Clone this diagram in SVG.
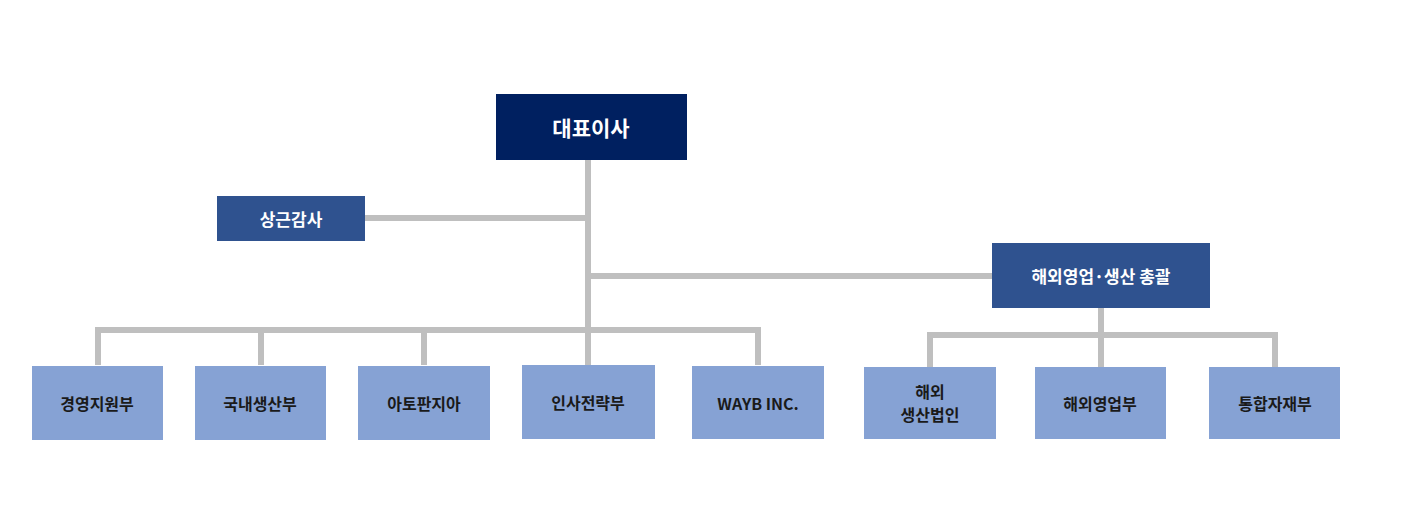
<svg xmlns="http://www.w3.org/2000/svg" width="1405" height="529" viewBox="0 0 1405 529">
<style>
.ln{stroke:#bfbfbf;stroke-width:6;fill:none}
.top{fill:#002060}
.mid{fill:#2f528f}
.low{fill:#86a2d4}
.tw{font-family:"Noto Sans CJK KR","Noto Sans",sans-serif;font-weight:bold;fill:#fff;text-anchor:middle;dominant-baseline:central}
.tb{font-family:"Noto Sans CJK KR","Noto Sans",sans-serif;font-weight:bold;fill:#1a1a1a;text-anchor:middle;dominant-baseline:central;font-size:16px}
</style>
<rect width="1405" height="529" fill="#fff"/>
<g id="connectors">
<path class="ln" d="M588 160V333M365 218H588M588 276H992M98 365V330H758V365M261 330V365M424 330V365M588 330V365"/>
<path class="ln" d="M1101 308V333M930 367V335H1275V367M1101 333V367"/>
</g>
<g id="n0"><rect class="top" x="496" y="94" width="191" height="66"/><text class="tw" x="591" y="127" font-size="21">대표이사</text></g>
<g id="n1"><rect class="mid" x="217" y="196" width="148" height="45"/><text class="tw" x="291" y="218" font-size="17">상근감사</text></g>
<g id="n2"><rect class="mid" x="992" y="243" width="218" height="65"/><text class="tw" x="1101" y="275" font-size="17">해외영업·생산 총괄</text></g>
<g id="n3"><rect class="low" x="32" y="366" width="131" height="74"/><text class="tb" x="97" y="403">경영지원부</text></g>
<g id="n4"><rect class="low" x="195" y="366" width="131" height="74"/><text class="tb" x="260" y="403">국내생산부</text></g>
<g id="n5"><rect class="low" x="358" y="366" width="132" height="74"/><text class="tb" x="424" y="403">아토판지아</text></g>
<g id="n6"><rect class="low" x="522" y="365" width="133" height="74"/><text class="tb" x="588" y="402">인사전략부</text></g>
<g id="n7"><rect class="low" x="692" y="366" width="132" height="73"/><text class="tb" x="758" y="403">WAYB INC.</text></g>
<g id="n8"><rect class="low" x="864" y="367" width="132" height="72"/><text class="tb" x="930" y="391">해외</text><text class="tb" x="930" y="414">생산법인</text></g>
<g id="n9"><rect class="low" x="1035" y="367" width="131" height="72"/><text class="tb" x="1100" y="403">해외영업부</text></g>
<g id="n10"><rect class="low" x="1209" y="367" width="131" height="72"/><text class="tb" x="1275" y="403">통합자재부</text></g>
</svg>
